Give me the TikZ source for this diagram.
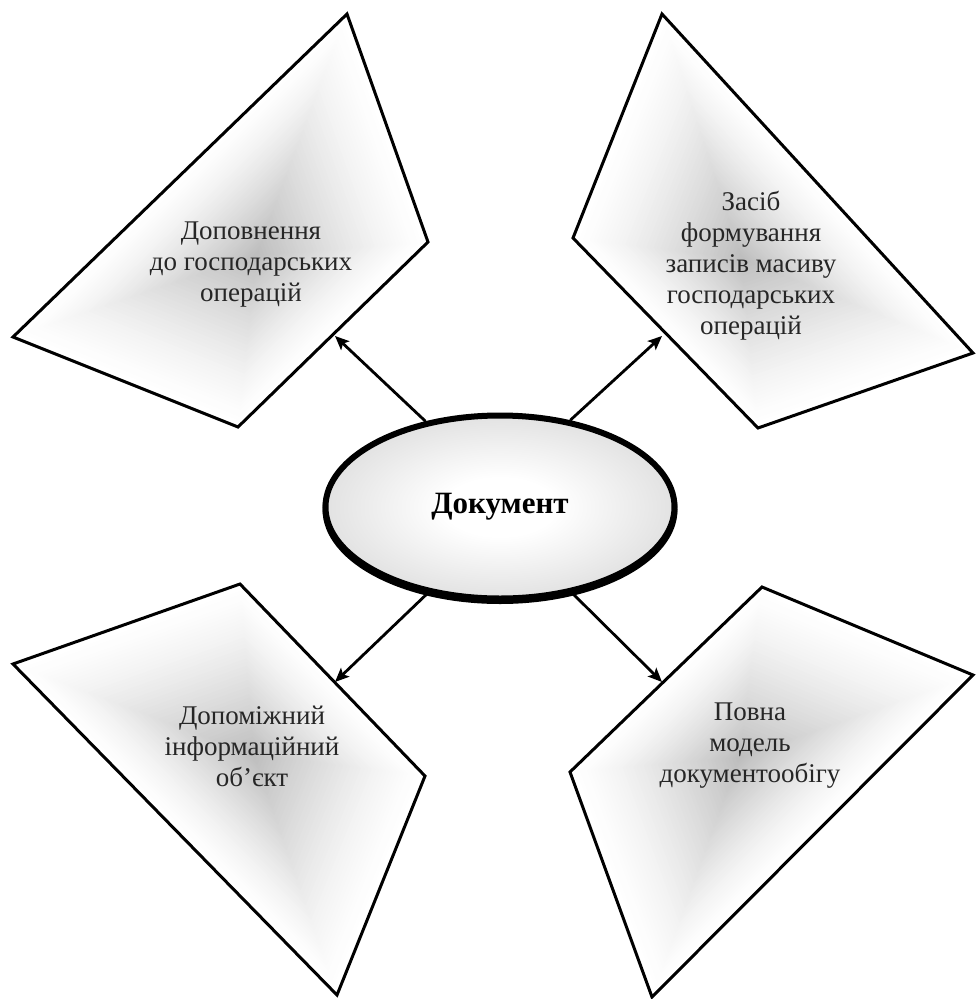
\documentclass[tikz,border=0pt]{standalone}
\usepackage{fontspec}
\setmainfont{Liberation Serif}
\usetikzlibrary{calc,shapes.geometric,arrows.meta}

% soft white-to-grey glow for the central ellipse
\pgfdeclareradialshading{docglow}{\pgfpoint{0bp}{0bp}}{%
  color(0bp)=(white); color(8bp)=(white);
  color(50bp)=(black!28); color(100bp)=(black!28)}

% quadrilateral filled with a centre-out gradient, then outlined
\newcommand\glowquad[4]{%
  \coordinate (gq-c) at ($0.25*(#1)+0.25*(#2)+0.25*(#3)+0.25*(#4)$);
  \foreach \k in {0,...,47}{%
    \pgfmathsetmacro\gqs{1-\k/48}%
    \pgfmathsetmacro\gqd{26*pow(\k/48+0.001,1.35)}%
    \fill[black!\gqd!white] ($(gq-c)!\gqs!(#1)$) -- ($(gq-c)!\gqs!(#2)$)
      -- ($(gq-c)!\gqs!(#3)$) -- ($(gq-c)!\gqs!(#4)$) -- cycle;
  }%
  \draw[panel] (#1) -- (#2) -- (#3) -- (#4) -- cycle;
}

\begin{document}
\begin{tikzpicture}[x=1pt,y=-1pt,
  panel/.style={line width=3pt,line join=miter,draw=black},
  label/.style={align=center,font=\fontsize{27}{31}\selectfont,inner sep=0pt,text=black!85},
  arr/.style={line width=2.8pt,-{Stealth[length=14pt,width=12pt,inset=3pt]}},
  core/.style={ellipse,draw=black,line width=6pt,shading=docglow,
    minimum width=349pt,minimum height=183pt,inner sep=0pt,
    font=\fontsize{31}{35}\selectfont\bfseries}]
\useasboundingbox (0,0) rectangle (975,999);

% corner points of the four panels
\coordinate (a1) at (347,14);  \coordinate (a2) at (428,242);
\coordinate (a3) at (238,427); \coordinate (a4) at (13,337);
\coordinate (b1) at (662,14);  \coordinate (b2) at (973,353);
\coordinate (b3) at (758,428); \coordinate (b4) at (573,238);
\coordinate (c1) at (240,584); \coordinate (c2) at (425,776);
\coordinate (c3) at (337,995); \coordinate (c4) at (13,664);
\coordinate (d1) at (762,587); \coordinate (d2) at (973,675);
\coordinate (d3) at (652,997); \coordinate (d4) at (570,772);

\glowquad{a1}{a2}{a3}{a4}
\glowquad{b1}{b2}{b3}{b4}
\glowquad{c1}{c2}{c3}{c4}
\glowquad{d1}{d2}{d3}{d4}

\node[label] (ta) at (251,265) {Доповнення\\до господарських\\операцій};
\node[label] (tb) at (751,266) {Засіб\\формування\\записів масиву\\господарських\\операцій};
\node[label] (tc) at (252,746) {Допоміжний\\інформаційний\\об’єкт};
\node[label] (td) at (750,746) {Повна\\модель\\документообігу};

% arrow targets on the panel edges
\coordinate (pa) at (335,336);
\coordinate (pb) at (662,336);
\coordinate (pc) at (335,682);
\coordinate (pd) at (662,682);

% dark rim slightly below the ellipse, then the ellipse itself
\node[ellipse,fill=black,minimum width=355pt,minimum height=189pt,inner sep=0pt]
  (rim) at (500,509.5) {};
\node[core] (doc) at (500,507) {Документ};

\draw[arr] (doc.131) -- (pa);
\draw[arr] (doc.51) -- (pb);
\draw[arr] (doc.230) -- (pc);
\draw[arr] (doc.310) -- (pd);
\end{tikzpicture}
\end{document}
